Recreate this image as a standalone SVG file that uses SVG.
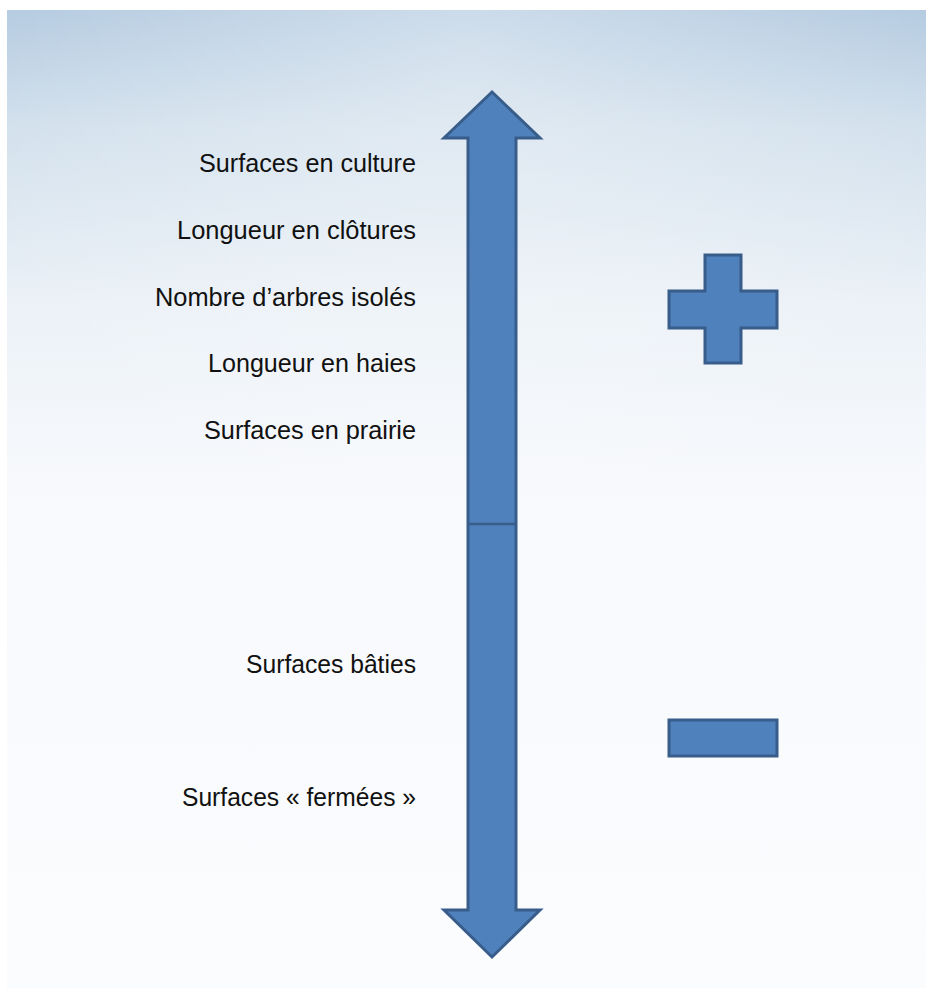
<svg xmlns="http://www.w3.org/2000/svg" width="926" height="988" viewBox="0 0 926 988">
<defs>
<linearGradient id="bg" x1="0" y1="0" x2="0" y2="1">
<stop offset="0" stop-color="#b3cae0"/>
<stop offset="0.12" stop-color="#d2e0ec"/>
<stop offset="0.3" stop-color="#ebf1f7"/>
<stop offset="0.48" stop-color="#f7f9fc"/>
<stop offset="1" stop-color="#fbfcfe"/>
</linearGradient>
<radialGradient id="glow" cx="0.5" cy="0.05" r="0.55">
<stop offset="0" stop-color="#ffffff" stop-opacity="0.35"/>
<stop offset="1" stop-color="#ffffff" stop-opacity="0"/>
</radialGradient>
<style>
.shape{fill:#4f81bd;stroke:#385d8a;stroke-width:3;stroke-linejoin:miter}
.lbl{font-family:"Liberation Sans","Open Sans",sans-serif;font-size:25px;fill:#111;text-anchor:end}
</style>
</defs>
<rect x="0" y="0" width="926" height="988" fill="#ffffff"/>
<rect x="7" y="10" width="919" height="978" fill="url(#bg)"/>
<rect x="7" y="10" width="919" height="978" fill="url(#glow)"/>
<g id="connectors">
<g id="double-arrow">
<path class="shape" d="M492,92 L540,138 L516,138 L516,910 L540,910 L492,957 L444,910 L468,910 L468,138 L444,138 Z"/>
<line x1="468" y1="524" x2="516" y2="524" stroke="#385d8a" stroke-width="2.5"/>
</g>
</g>
<g id="plus">
<path class="shape" d="M705,255 L741,255 L741,291 L777,291 L777,328 L741,328 L741,363 L705,363 L705,328 L669,328 L669,291 L705,291 Z"/>
</g>
<g id="minus">
<rect class="shape" x="669" y="720" width="108" height="36"/>
</g>
<g id="labels">
<text id="t1" class="lbl" x="416" y="172" textLength="217" lengthAdjust="spacingAndGlyphs">Surfaces en culture</text>
<text id="t2" class="lbl" x="416" y="239" textLength="239" lengthAdjust="spacingAndGlyphs">Longueur en clôtures</text>
<text id="t3" class="lbl" x="416" y="306" textLength="261" lengthAdjust="spacingAndGlyphs">Nombre d’arbres isolés</text>
<text id="t4" class="lbl" x="416" y="372" textLength="208" lengthAdjust="spacingAndGlyphs">Longueur en haies</text>
<text id="t5" class="lbl" x="416" y="439" textLength="212" lengthAdjust="spacingAndGlyphs">Surfaces en prairie</text>
<text id="t6" class="lbl" x="416" y="673" textLength="170" lengthAdjust="spacingAndGlyphs">Surfaces bâties</text>
<text id="t7" class="lbl" x="416" y="806" textLength="234" lengthAdjust="spacingAndGlyphs">Surfaces «  fermées »</text>
</g>
</svg>
